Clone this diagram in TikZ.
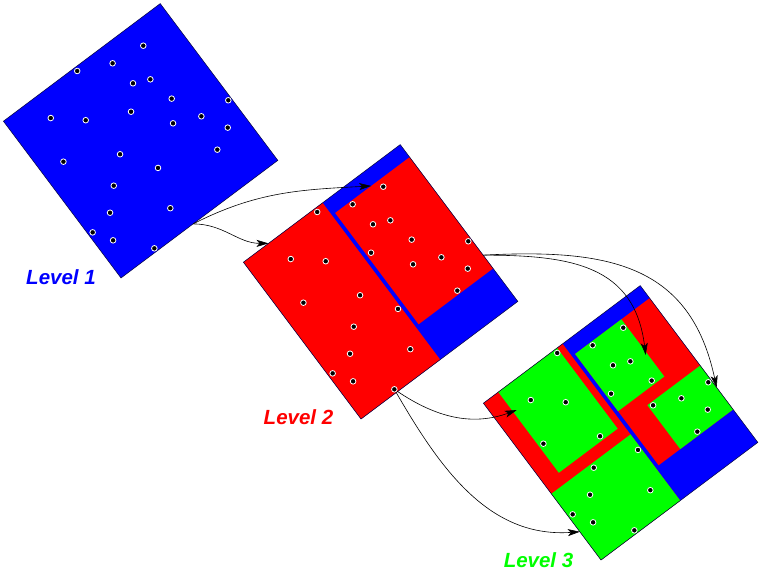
\documentclass[tikz,border=0pt]{standalone}
\usepackage{fontspec}
\usetikzlibrary{arrows.meta}
\newfontfamily\lblfont{Liberation Sans}
\definecolor{lgreen}{RGB}{0,255,0}
\newcommand\dotlist{8.02/8.80,6.23/9.02,4.55/9.79,6.45/7.58,7.28/7.21,7.56/5.77,9.82/3.97,5.50/6.48,2.03/8.68,3.39/7.52,6.86/4.72,8.23/4.14,8.96/2.87,7.86/2.29,3.75/5.08,1.21/6.51,4.88/3.36,2.53/3.99,4.15/1.34,1.55/3.00,0.24/2.73,0.83/1.78,2.27/0.19}
\begin{document}
\begin{tikzpicture}[x=1pt,y=1pt,>={Stealth[length=12pt,width=7pt,inset=3pt]},
    dot/.style={circle,fill=black,draw=white,line width=0.8pt,inner sep=0pt,minimum size=5.6pt},
    lbl/.style={font=\lblfont\fontsize{20.5}{24}\selectfont\bfseries\itshape}]
\useasboundingbox (0,0) rectangle (762,572);

\foreach \k in {1,2,3}
{
\begin{scope}[shift={({121+240*(\k-1)},{294-141*(\k-1)})},rotate=36.87,x=19.6pt,y=19.6pt]
    \fill[blue] (0,0) rectangle (10,10);
    \ifnum\k>1
        \fill[red] (0,0) rectangle (5.05,10);
        \fill[red] (5.25,2.1) rectangle (10,9.2);
    \fi
    \ifnum\k>2
        \fill[lgreen] (0.95,4.85) rectangle (4.7,10);
        \fill[lgreen] (0,0) rectangle (5.05,4.22);
        \fill[lgreen] (5.25,5.55) rectangle (8.2,9.2);
        \fill[lgreen] (6.63,2.1) rectangle (10,4.9);
    \fi
    \draw[black!80!blue,line width=0.5pt] (0,0) rectangle (10,10);
    \foreach \u/\v [count=\i] in \dotlist
        \node[dot] (d\k-\i) at (\u,\v) {};
    \coordinate (src\k) at (4.6,0);
    \coordinate (right\k) at (10,2.95);
    \coordinate (boxa\k) at (1.6,10);
    \coordinate (boxb\k) at (7.55,9.2);
    \coordinate (boxc\k) at (1.15,8.7);
    \coordinate (boxd\k) at (0,1.8);
    \coordinate (boxe\k) at (8.1,7.0);
    \coordinate (boxf\k) at (10,3.5);
\end{scope}
}

\node[lbl,text=blue] (lev1) at (61,295) {Level 1};
\node[lbl,text=red] (lev2) at (298.5,155) {Level 2};
\node[lbl,text=lgreen] (lev3) at (538.5,12) {Level 3};

\draw[->,line width=0.6pt] (src1) to[out=27,in=183] (boxb2);
\draw[->,line width=0.6pt] (src1) to[out=0,in=180] (boxa2);
\draw[->,line width=0.6pt] (right2) to[out=0,in=97,looseness=1.2] (boxe3);
\draw[->,line width=0.6pt] (right2) to[out=3,in=102,looseness=1.2] (boxf3);
\draw[->,line width=0.6pt] (d2-23) to[out=-34,in=200] (boxc3);
\draw[->,line width=0.6pt] (d2-23) to[out=-60,in=184] (boxd3);

\end{tikzpicture}
\end{document}
